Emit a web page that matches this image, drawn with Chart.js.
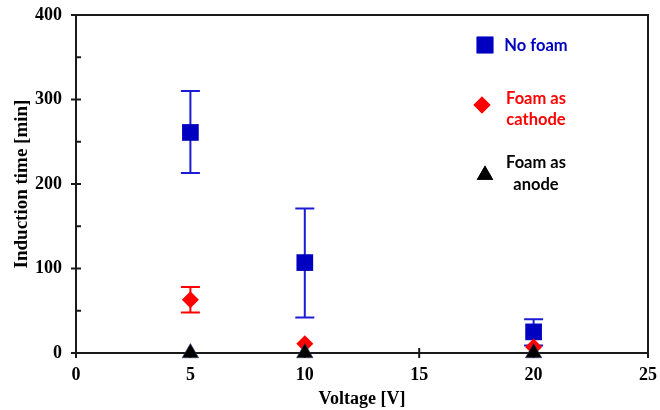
<!DOCTYPE html>
<html><head><meta charset="utf-8">
<script src="https://cdn.jsdelivr.net/npm/chart.js@4/dist/chart.umd.min.js"></script>
<style>html,body{margin:0;padding:0;background:#fff}#wrap{width:660px;height:410px}</style>
</head><body><div id="wrap"><canvas id="c" width="660" height="410"></canvas></div>
<script>
const voltages = [5, 10, 20];
const noFoam = [261, 107, 25];
const noFoamLow = [213, 42, 9];
const noFoamHigh = [310, 171, 40];
const cathode = [63, 11, 7];
const cathodeLow = [48, null, null];
const cathodeHigh = [78, null, null];
const anode = [0, 0, 0];
const xTicks = [0, 5, 10, 15, 20, 25];
const yTicks = [0, 100, 200, 300, 400];
const yMinorTicks = [50, 150, 250, 350];
const seriesNames = [['No foam'], ['Foam as', 'cathode'], ['Foam as', 'anode']];

const SERIF = "'Liberation Serif', 'Times New Roman', serif";
const BLUE = '#0000c0', BAR_BLUE = '#1c1cd4', RED = '#ff0000', BLACK = '#000000';

const pts = (ys) => voltages.map((v, i) => ({x: v, y: ys[i]}));

const errorBars = [
  {low: noFoamLow, high: noFoamHigh, color: BAR_BLUE},
  {low: cathodeLow, high: cathodeHigh, color: RED}
];

const framePlugin = {
  id: 'frame',
  beforeDatasetsDraw(chart) {
    const {ctx, chartArea: a, scales: {x, y}} = chart;
    ctx.save();
    ctx.strokeStyle = '#1a1a1a';
    ctx.lineWidth = 2;
    ctx.strokeRect(a.left, a.top, a.right - a.left, a.bottom - a.top);
    ctx.beginPath();
    yTicks.forEach(v => { const p = y.getPixelForValue(v); ctx.moveTo(a.left - 5, p); ctx.lineTo(a.left + 5, p); });
    yMinorTicks.forEach(v => { const p = y.getPixelForValue(v); ctx.moveTo(a.left, p); ctx.lineTo(a.left + 5, p); });
    xTicks.forEach(v => { const p = x.getPixelForValue(v); ctx.moveTo(p, a.bottom - 5); ctx.lineTo(p, a.bottom + 5); });
    ctx.stroke();
    ctx.lineWidth = 2;
    errorBars.forEach(eb => {
      ctx.strokeStyle = eb.color;
      ctx.beginPath();
      voltages.forEach((v, i) => {
        if (eb.low[i] == null) return;
        const px = x.getPixelForValue(v);
        const pl = y.getPixelForValue(eb.low[i]);
        const ph = y.getPixelForValue(eb.high[i]);
        ctx.moveTo(px, pl); ctx.lineTo(px, ph);
        ctx.moveTo(px - 9.5, pl); ctx.lineTo(px + 9.5, pl);
        ctx.moveTo(px - 9.5, ph); ctx.lineTo(px + 9.5, ph);
      });
      ctx.stroke();
    });
    ctx.restore();
  }
};

const legendPlugin = {
  id: 'customLegend',
  afterDraw(chart) {
    const ctx = chart.ctx;
    const items = [
      {style: 'rect', r: 11.8, color: BLUE, mx: 485, my: 45, ty: [46]},
      {style: 'rectRot', r: 8.5, color: RED, mx: 482, my: 105, ty: [99, 120]},
      {style: 'triangle', r: 9.5, color: BLACK, mx: 485, my: 175, ty: [163, 185]}
    ];
    ctx.save();
    items.forEach((it, k) => {
      ctx.fillStyle = it.color;
      Chart.helpers.drawPoint(ctx, {pointStyle: it.style, radius: it.r, rotation: 0, borderWidth: 0}, it.mx, it.my);
      ctx.fill();
      ctx.font = "bold 16.5px Lato, 'Open Sans', sans-serif";
      ctx.textAlign = 'center';
      ctx.textBaseline = 'middle';
      ctx.fillStyle = k === 0 ? BLUE : it.color;
      seriesNames[k].forEach((line, j) => ctx.fillText(line, 536, it.ty[j]));
    });
    ctx.restore();
  }
};

new Chart(document.getElementById('c'), {
  type: 'scatter',
  data: {
    datasets: [
      {label: seriesNames[0].join(' '), data: pts(noFoam), pointStyle: 'rect', pointRadius: 11.8,
       backgroundColor: BLUE, borderWidth: 0, showLine: false, clip: false, order: 3},
      {label: seriesNames[1].join(' '), data: pts(cathode), pointStyle: 'rectRot', pointRadius: 8.5,
       backgroundColor: RED, borderWidth: 0, showLine: false, clip: false, order: 2},
      {label: seriesNames[2].join(' '), data: pts(anode), pointStyle: 'triangle', pointRadius: 9.5,
       backgroundColor: BLACK, borderColor: '#34406e', borderWidth: 0.6, showLine: false, clip: false, order: 1}
    ]
  },
  options: {
    responsive: false,
    animation: false,
    devicePixelRatio: 1,
    layout: {padding: {left: 0, right: 12, top: 15, bottom: 0}},
    plugins: {legend: {display: false}, tooltip: {enabled: false}},
    elements: {point: {hoverRadius: 0}},
    scales: {
      x: {
        type: 'linear', min: 0, max: 25,
        afterBuildTicks: s => { s.ticks = xTicks.map(v => ({value: v})); },
        afterFit: s => { s.height = 57; s.paddingLeft = 0; s.paddingRight = 0; },
        grid: {display: false, drawTicks: false},
        border: {display: false},
        ticks: {color: BLACK, font: {family: SERIF, size: 18, weight: 'bold'}, padding: 12, maxRotation: 0},
        title: {display: true, text: 'Voltage [V]', color: BLACK, font: {family: SERIF, size: 18, weight: 'bold'}, padding: {top: 0, bottom: 0}}
      },
      y: {
        type: 'linear', min: 0, max: 400,
        afterBuildTicks: s => { s.ticks = yTicks.map(v => ({value: v})); },
        afterFit: s => { s.width = 76; s.paddingTop = 0; s.paddingBottom = 0; },
        grid: {display: false, drawTicks: false},
        border: {display: false},
        ticks: {color: BLACK, font: {family: SERIF, size: 18, weight: 'bold'}, padding: 14},
        title: {display: true, text: 'Induction time [min]', color: BLACK, font: {family: SERIF, size: 19, weight: 'bold'}, padding: {top: 11, bottom: 0}}
      }
    }
  },
  plugins: [framePlugin, legendPlugin]
});
</script>
</body></html>
